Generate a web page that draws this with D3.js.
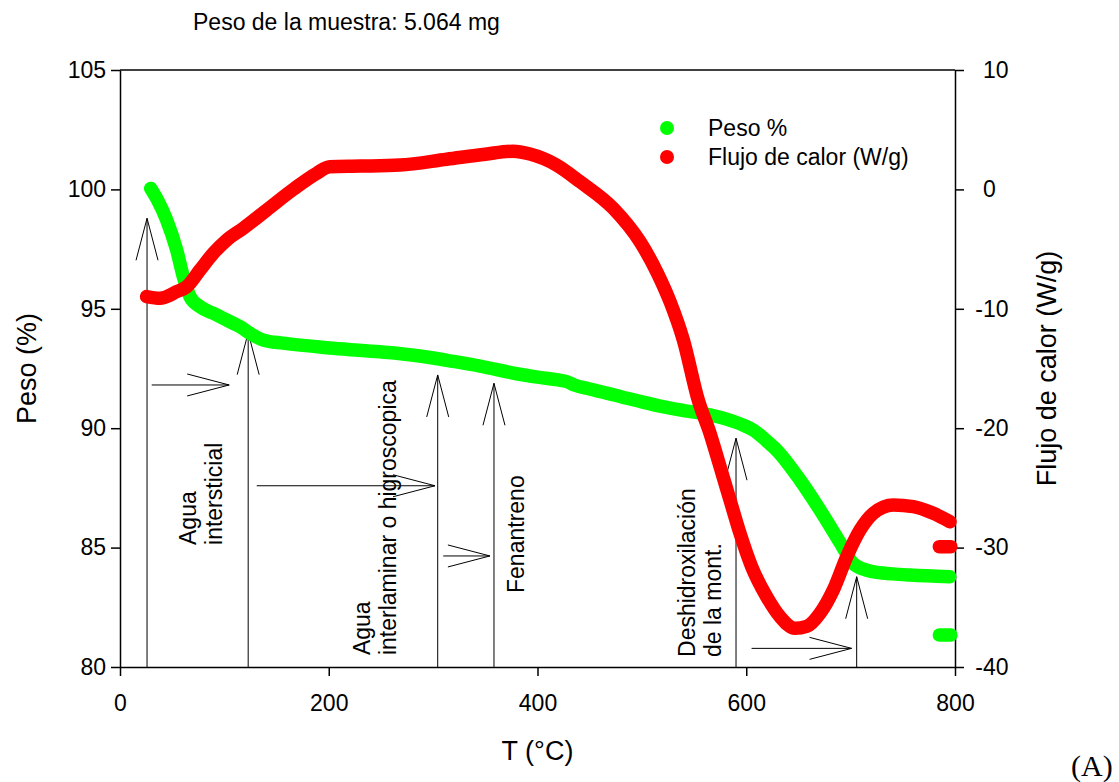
<!DOCTYPE html>
<html>
<head>
<meta charset="utf-8">
<script src="https://cdn.jsdelivr.net/npm/d3@7"></script>
<style>
  body { margin: 0; background: #fff; }
  svg text { font-family: "Liberation Sans", Arial, sans-serif; fill: #000; }
</style>
</head>
<body>
<svg id="chart" width="1119" height="782"></svg>
<script>
// Thermogravimetric curve: weight % versus temperature
const pesoT = [29.4, 36, 44.7, 54.3, 60.7, 67, 76.6, 89.4, 102.2, 108.6, 115, 124.6, 137.3, 156.5, 204.4,
               249, 265, 300, 319, 345, 380, 400, 420, 428, 436, 450, 480, 500, 520, 540, 560, 581, 596,
               606.8, 620, 629, 651.5, 670.7, 690, 702, 712, 721, 740, 757, 795];
const pesoV = [100.04, 99.55, 98.72, 97.46, 96.34, 95.51, 95.09, 94.81, 94.53, 94.39, 94.25, 93.97, 93.69, 93.56, 93.35,
               93.2, 93.14, 92.94, 92.8, 92.6, 92.28, 92.14, 92.02, 91.95, 91.8, 91.64, 91.32, 91.1, 90.9, 90.74,
               90.6, 90.38, 90.15, 89.92, 89.45, 89.09, 87.83, 86.57, 85.2, 84.35, 84.1, 83.99, 83.9, 83.85, 83.78];
// Short isolated trace at the end of the run
const pesoTailT = [785, 796];
const pesoTailV = [81.34, 81.34];

// Heat flow (W/g) versus temperature
const flujoT = [25.5, 38.3, 54.3, 63.9, 76.6, 89.4, 102.2, 118, 140.5, 166, 188.4, 201, 230, 268,
                313, 350, 376.8, 392.8, 418.3, 440.7, 472.6, 498.2, 514.2, 527, 539.7, 554, 565.3, 574.9,
                584.4, 594, 605.2, 619.5, 632.3, 646.7, 657.9, 670.7, 683.4, 696.3, 709, 721.7, 740.9,
                760, 779.2, 795.2];
const flujoV = [-8.98, -9.12, -8.57, -8.15, -6.75, -5.35, -4.24, -3.26, -1.73, 0, 1.35, 1.9, 1.95, 2.04,
                2.53, 2.95, 3.2, 2.96, 2.04, 0.65, -1.59, -4.38, -6.89, -9.4, -12.6, -17.64, -20.43, -23.22,
                -26.0, -28.8, -31.6, -34.1, -35.78, -36.76, -36.6, -35.5, -33.55, -30.76, -28.53, -27.13, -26.43,
                -26.57, -27.13, -27.83];
const flujoTailT = [785, 796];
const flujoTailV = [-29.92, -29.92];

// Axis ticks
const xTicks = [0, 200, 400, 600, 800];
const pesoTicks = [80, 85, 90, 95, 100, 105];
const flujoTicks = [-40, -30, -20, -10, 0, 10];

// Legend
const seriesNames = ["Peso %", "Flujo de calor (W/g)"];
const seriesColors = ["#00ff00", "#ff0000"];

// Vertical arrows: temperature and weight % at the tip
const vArrowT = [25.9, 122.8, 304.4, 358.3, 590.2, 705.8];
const vArrowTip = [98.79, 94.0, 92.23, 91.88, 89.58, 83.78];

// Horizontal arrows: weight % level, start and end temperature
const hArrowY = [91.81, 87.59, 84.65, 80.78];
const hArrowFrom = [30.4, 131, 309.7, 605.1];
const hArrowTo = [104.6, 301.8, 354.4, 700.9];

// Stage labels (vertical text), anchored at temperature / weight %
const noteT = [72.8, 239.5, 387.1, 550.9];
const noteP = [85.11, 80.5, 83.1, 80.42];
const noteLines = [
  ["Agua", "intersticial"],
  ["Agua", "interlaminar o higroscopica"],
  ["Fenantreno"],
  ["Deshidroxilación", "de la mont."]
];

const svg = d3.select("#chart");
const plot = { left: 120, right: 955, top: 70, bottom: 667 };
const fontSize = 23;

const x = d3.scaleLinear().domain([0, 800]).range([plot.left, plot.right]);
const yL = d3.scaleLinear().domain([80, 105]).range([plot.bottom, plot.top]);
const yR = d3.scaleLinear().domain([-40, 10]).range([plot.bottom, plot.top]);

// Frame top line
svg.append("line")
  .attr("x1", plot.left).attr("x2", plot.right)
  .attr("y1", plot.top).attr("y2", plot.top)
  .attr("stroke", "#000").attr("stroke-width", 1.5);

function styleAxis(g) {
  g.select(".domain").attr("stroke", "#000").attr("stroke-width", 1.5);
  g.selectAll(".tick line").attr("stroke", "#000").attr("stroke-width", 1.5);
  g.selectAll(".tick text")
    .attr("font-size", fontSize)
    .attr("font-family", "'Liberation Sans', Arial, sans-serif")
    .attr("fill", "#000");
  g.attr("font-size", null).attr("font-family", null);
}

const fmt = d => String(d);

svg.append("g")
  .attr("transform", `translate(0,${plot.bottom})`)
  .call(d3.axisBottom(x).tickValues(xTicks).tickFormat(fmt).tickSize(9).tickSizeOuter(0).tickPadding(19))
  .call(styleAxis);

svg.append("g")
  .attr("transform", `translate(${plot.left},0)`)
  .call(d3.axisLeft(yL).tickValues(pesoTicks).tickFormat(fmt).tickSize(9).tickSizeOuter(0).tickPadding(5))
  .call(styleAxis);

const rightAxis = svg.append("g")
  .attr("transform", `translate(${plot.right},0)`)
  .call(d3.axisRight(yR).tickValues(flujoTicks).tickFormat(fmt).tickSize(9).tickSizeOuter(0))
  .call(styleAxis);
// Digits left-aligned; the minus sign hangs to the left
rightAxis.selectAll(".tick text")
  .attr("text-anchor", "start")
  .attr("x", d => d < 0 ? 28 - 7.7 : 28);

// Axis titles
svg.append("text")
  .attr("transform", `translate(36,${(plot.top + plot.bottom) / 2}) rotate(-90)`)
  .attr("text-anchor", "middle")
  .attr("font-size", 27)
  .text("Peso (%)");

svg.append("text")
  .attr("transform", `translate(1056,${(plot.top + plot.bottom) / 2}) rotate(-90)`)
  .attr("text-anchor", "middle")
  .attr("font-size", 27)
  .text("Flujo de calor (W/g)");

svg.append("text")
  .attr("x", (plot.left + plot.right) / 2)
  .attr("y", 760)
  .attr("text-anchor", "middle")
  .attr("font-size", 27)
  .text("T (°C)");

// Sample weight note
svg.append("text")
  .attr("x", 193).attr("y", 30)
  .attr("font-size", fontSize)
  .text("Peso de la muestra: 5.064 mg");

// Panel tag
svg.append("text")
  .attr("x", 1071).attr("y", 776)
  .attr("font-size", 30)
  .style("font-family", "'Liberation Serif', 'Times New Roman', serif")
  .text("(A)");

// Arrows
const arrows = svg.append("g").attr("stroke", "#000").attr("stroke-width", 1).attr("fill", "none");
const headLen = 42, headHalf = 11;

vArrowT.forEach((t, i) => {
  const px = x(t), tip = yL(vArrowTip[i]);
  arrows.append("line").attr("x1", px).attr("x2", px).attr("y1", plot.bottom).attr("y2", tip);
  arrows.append("path").attr("d",
    `M${px - headHalf},${tip + headLen}L${px},${tip}L${px + headHalf},${tip + headLen}`);
});

hArrowY.forEach((p, i) => {
  const py = yL(p), x0 = x(hArrowFrom[i]), x1 = x(hArrowTo[i]);
  arrows.append("line").attr("x1", x0).attr("x2", x1).attr("y1", py).attr("y2", py);
  arrows.append("path").attr("d",
    `M${x1 - headLen},${py - headHalf}L${x1},${py}L${x1 - headLen},${py + headHalf}`);
});

// Stage labels
noteLines.forEach((lines, i) => {
  const ax = x(noteT[i]), ay = yL(noteP[i]);
  const t = svg.append("text")
    .attr("transform", `translate(${ax},${ay}) rotate(-90)`)
    .attr("font-size", fontSize);
  lines.forEach((s, j) => {
    t.append("tspan").attr("x", 0).attr("y", j * fontSize * 1.15).text(s);
  });
});

// Data curves
const curve = d3.curveMonotoneX;
const pesoLine = d3.line().x(d => x(d[0])).y(d => yL(d[1])).curve(curve);
const flujoLine = d3.line().x(d => x(d[0])).y(d => yR(d[1])).curve(curve);

const curveStyle = sel => sel.attr("fill", "none").attr("stroke-width", 13.5)
  .attr("stroke-linecap", "round").attr("stroke-linejoin", "round");

svg.append("path").datum(d3.zip(pesoT, pesoV)).attr("d", pesoLine)
  .attr("stroke", seriesColors[0]).call(curveStyle);
svg.append("path").datum(d3.zip(pesoTailT, pesoTailV)).attr("d", pesoLine)
  .attr("stroke", seriesColors[0]).call(curveStyle);
svg.append("path").datum(d3.zip(flujoT, flujoV)).attr("d", flujoLine)
  .attr("stroke", seriesColors[1]).call(curveStyle);
svg.append("path").datum(d3.zip(flujoTailT, flujoTailV)).attr("d", flujoLine)
  .attr("stroke", seriesColors[1]).call(curveStyle);

// Legend
const legend = svg.append("g").attr("transform", "translate(667,128)");
seriesNames.forEach((name, i) => {
  const row = legend.append("g").attr("transform", `translate(0,${i * 29})`);
  row.append("circle").attr("r", 7).attr("fill", seriesColors[i]);
  row.append("text").attr("x", 41).attr("y", 0).attr("dy", "0.36em")
    .attr("font-size", fontSize).text(name);
});
</script>
</body>
</html>
